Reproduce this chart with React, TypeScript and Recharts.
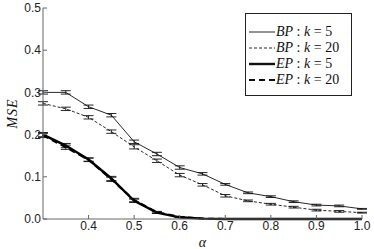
import { LineChart, Line, XAxis, YAxis, ErrorBar } from 'recharts'

const alphas = [0.3, 0.35, 0.4, 0.45, 0.5, 0.55, 0.6, 0.65, 0.7, 0.75, 0.8, 0.85, 0.9, 0.95, 1.0]
const bp5 = [0.3, 0.3, 0.266, 0.246, 0.183, 0.154, 0.122, 0.107, 0.082, 0.062, 0.053, 0.041, 0.033, 0.031, 0.024]
const bp20 = [0.274, 0.261, 0.241, 0.207, 0.171, 0.138, 0.104, 0.081, 0.055, 0.043, 0.035, 0.028, 0.021, 0.018, 0.015]
const ep5 = [0.2, 0.174, 0.141, 0.096, 0.043, 0.015, 0.004, 0.001, 0, 0, 0, 0, 0, 0, 0]
const ep20 = [0.198, 0.17, 0.14, 0.094, 0.045, 0.016, 0.005, 0.001, 0, 0, 0, 0, 0, 0, 0]
const bp5Err = [0.004, 0.004, 0.004, 0.004, 0.004, 0.004, 0.004, 0.003, 0.002, 0.002, 0.002, 0.002, 0.002, 0.002, 0.001]
const bp20Err = [0.004, 0.004, 0.004, 0.004, 0.005, 0.004, 0.004, 0.003, 0.003, 0.002, 0.002, 0.002, 0.002, 0.002, 0.001]
const ep5Err = [0.005, 0.005, 0.004, 0.005, 0.004, 0.002, 0.001, 0, 0, 0, 0, 0, 0, 0, 0]
const ep20Err = [0.005, 0.005, 0.004, 0.005, 0.004, 0.002, 0.001, 0, 0, 0, 0, 0, 0, 0, 0]
const xTicks = [0.4, 0.5, 0.6, 0.7, 0.8, 0.9, 1.0]
const yTicks = [0, 0.1, 0.2, 0.3, 0.4, 0.5]

const data = alphas.map((a, i) => ({
  alpha: a,
  bp5: bp5[i],
  bp20: bp20[i],
  ep5: ep5[i],
  ep20: ep20[i],
  bp5Err: bp5Err[i],
  bp20Err: bp20Err[i],
  ep5Err: ep5Err[i],
  ep20Err: ep20Err[i],
}))

const legendItems = [
  { name: 'BP', k: '5', width: 0.9, dash: undefined },
  { name: 'BP', k: '20', width: 0.9, dash: '3 2' },
  { name: 'EP', k: '5', width: 2.4, dash: undefined },
  { name: 'EP', k: '20', width: 2, dash: '6 4' },
]

const mathFont = '"Liberation Serif", "DejaVu Serif", serif'
const tickFont = { fontFamily: '"Liberation Sans", Arial, sans-serif', fontSize: 12, fill: '#222' }

// legend drawn as an overlay so the plot keeps its full height
function LegendBox() {
  return (
    <div
      style={{
        position: 'absolute',
        left: 245,
        top: 13,
        border: '1px solid #222',
        background: '#fff',
        width: 105,
        height: 81,
      }}
    >
      {legendItems.map((it, i) => (
        <div key={i} style={{ display: 'flex', alignItems: 'center', height: 16, marginTop: i === 0 ? 10 : 0 }}>
          <svg width={27} height={10} style={{ marginLeft: 2 }}>
            <line x1={1} y1={5} x2={27} y2={5} stroke="#111" strokeWidth={it.width} strokeDasharray={it.dash} />
          </svg>
          <span style={{ fontFamily: mathFont, fontSize: 14, color: '#111', marginLeft: 1, whiteSpace: 'nowrap' }}>
            <i>{it.name}</i> : <i>k</i> = {it.k}
          </span>
        </div>
      ))}
    </div>
  )
}

export default function App() {
  return (
    <div style={{ position: 'absolute', left: 0, top: 0, width: 374, height: 249, background: '#fff' }}>
      <LineChart width={374} height={249} data={data} margin={{ top: 8, right: 12, left: 0, bottom: 0 }}>
        <XAxis
          dataKey="alpha"
          type="number"
          domain={[0.3, 1.0]}
          ticks={xTicks}
          tickFormatter={(v: number) => v.toFixed(1)}
          tick={tickFont}
          tickSize={-4}
          tickMargin={6}
          stroke="#666"
          height={30}
          label={{ value: 'α', position: 'insideBottom', offset: 0, dy: -2, style: { fontFamily: mathFont, fontStyle: 'italic', fontSize: 14, fill: '#111' } }}
        />
        <YAxis
          type="number"
          domain={[0, 0.5]}
          ticks={yTicks}
          tickFormatter={(v: number) => v.toFixed(1)}
          tick={tickFont}
          tickSize={-4}
          tickMargin={6}
          stroke="#666"
          width={43}
          label={{ value: 'MSE', angle: -90, position: 'insideLeft', offset: 12, style: { fontFamily: mathFont, fontStyle: 'italic', fontSize: 14, fill: '#111', textAnchor: 'middle', letterSpacing: 1 } }}
        />
        <Line dataKey="bp5" stroke="#111" strokeWidth={0.9} dot={false} isAnimationActive={false}>
          <ErrorBar dataKey="bp5Err" width={5} strokeWidth={0.9} stroke="#111" direction="y" />
        </Line>
        <Line dataKey="bp20" stroke="#111" strokeWidth={0.9} strokeDasharray="3 2" dot={false} isAnimationActive={false}>
          <ErrorBar dataKey="bp20Err" width={5} strokeWidth={0.9} stroke="#111" direction="y" />
        </Line>
        <Line dataKey="ep5" stroke="#000" strokeWidth={2.4} dot={false} isAnimationActive={false}>
          <ErrorBar dataKey="ep5Err" width={5} strokeWidth={0.9} stroke="#111" direction="y" />
        </Line>
        <Line dataKey="ep20" stroke="#000" strokeWidth={2} strokeDasharray="6 4" dot={false} isAnimationActive={false}>
          <ErrorBar dataKey="ep20Err" width={5} strokeWidth={0.9} stroke="#111" direction="y" />
        </Line>
      </LineChart>
      <LegendBox />
    </div>
  )
}
